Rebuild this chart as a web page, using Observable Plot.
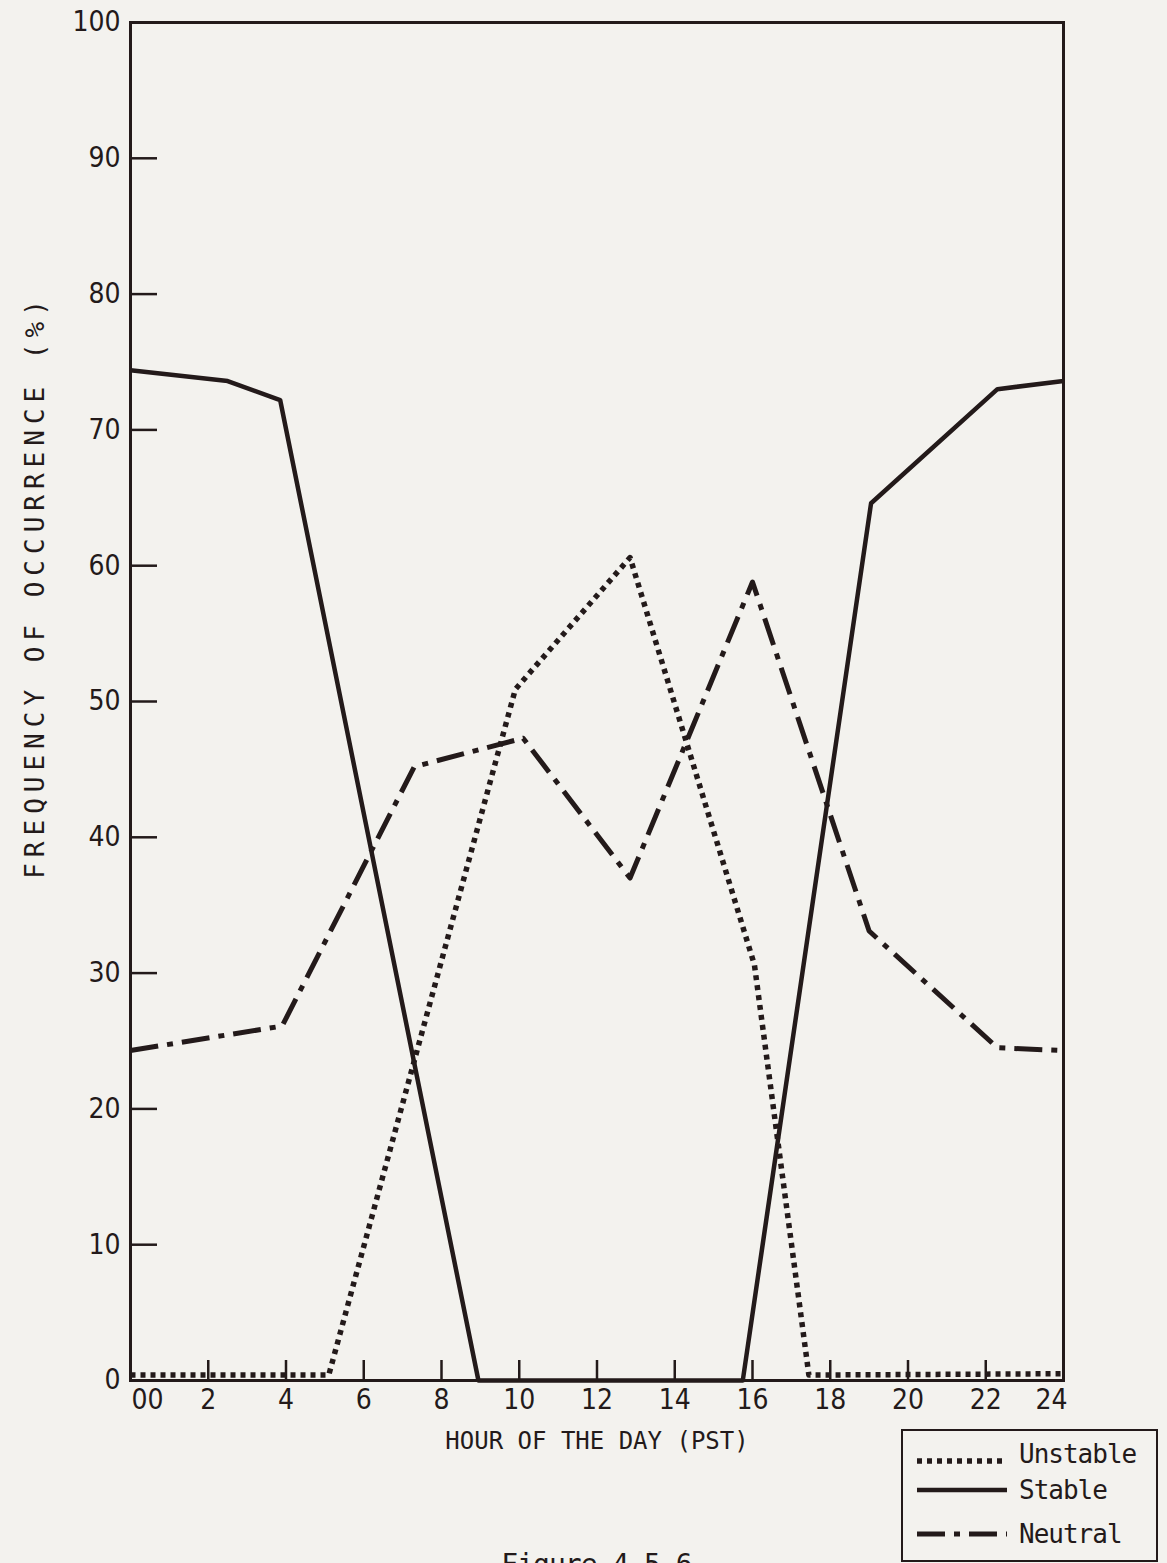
<!DOCTYPE html>
<html>
<head>
<meta charset="utf-8">
<script src="https://cdn.jsdelivr.net/npm/d3@7"></script>
<script src="https://cdn.jsdelivr.net/npm/@observablehq/plot@0.6"></script>
<style>
  html, body { margin: 0; padding: 0; background: #f3f2ee; }
  #wrap { position: relative; width: 1167px; height: 1563px; overflow: hidden; background: #f3f2ee; }
  #chart { position: absolute; left: 0; top: 0; }
  #legend { position: absolute; left: 901px; top: 1429px; width: 257px; height: 133px;
            border: 2.5px solid #231a1a; box-sizing: border-box; }
  #legend .row { position: absolute; left: 0; height: 34px; display: flex; align-items: center; }
  #legend .lbl { font-family: "DejaVu Sans Mono", monospace; font-size: 26px; color: #231a1a; letter-spacing: -1px; margin-left: 4px; }
  #caption { position: absolute; left: 0; width: 1193px; top: 1548px; text-align: center;
             font-family: "DejaVu Sans Mono", monospace; font-size: 28px; color: #231a1a; letter-spacing: -1px; }
</style>
</head>
<body>
<div id="wrap">
  <div id="chart"></div>
  <div id="legend"></div>
  <div id="caption">Figure 4.5.6</div>
</div>
<script>
// ---- data ----
const seriesNames = ["Unstable", "Stable", "Neutral"];

const unstableHours  = [0,   5.1, 9.9,  12.85, 16.05, 17.45, 24];
const unstableValues = [0.4, 0.4, 50.9, 60.6,  30.6,  0.4,   0.5];

const stableHours  = [0,    2.5,  3.85, 8.95, 15.75, 19.05, 22.3, 24];
const stableValues = [74.4, 73.6, 72.2, 0,    0,     64.6,  73.0, 73.6];

const neutralHours  = [0,    3.9,  7.3,  10.1, 12.85, 16.0, 19.0, 22.3, 24];
const neutralValues = [24.3, 26.1, 45.2, 47.3, 37.0,  58.8, 33.1, 24.5, 24.3];

const xTicks = [0, 2, 4, 6, 8, 10, 12, 14, 16, 18, 20, 22, 24];
const xTickLabels = ["00", "2", "4", "6", "8", "10", "12", "14", "16", "18", "20", "22", "24"];
const yTicks = [0, 10, 20, 30, 40, 50, 60, 70, 80, 90, 100];

const xTitle = "HOUR OF THE DAY (PST)";
const yTitle = "FREQUENCY OF OCCURRENCE (%)";

// ---- styles ----
const INK = "#231a1a";
const styles = {
  Unstable: {strokeWidth: 5.5, strokeDasharray: "5,5", strokeLinecap: "butt"},
  Stable:   {strokeWidth: 4.5, strokeDasharray: null, strokeLinecap: "butt"},
  Neutral:  {strokeWidth: 5, strokeDasharray: "28,9,6,9", strokeLinecap: "butt"}
};

const toRows = (hours, vals) => hours.map((h, i) => ({hour: h, value: vals[i]}));
const data = {
  Unstable: toRows(unstableHours, unstableValues),
  Stable: toRows(stableHours, stableValues),
  Neutral: toRows(neutralHours, neutralValues)
};

const fmtX = (d) => xTickLabels[xTicks.indexOf(d)];
const xMid = xTicks.slice(1, -1);
const xLabelOpts = {tickSize: 0, tickPadding: 9, label: null, fontSize: 28, tickFormat: fmtX};
const blank = () => "";

const chart = Plot.plot({
  width: 1167,
  height: 1470,
  marginTop: 22,
  marginLeft: 130,
  marginRight: 104,
  marginBottom: 90,
  style: {background: "transparent", color: INK, fontFamily: "'Liberation Sans Narrow', 'DejaVu Sans Condensed', sans-serif", fontSize: "28px"},
  x: {domain: [0, 24]},
  y: {domain: [0, 100]},
  marks: [
    // inward tick marks
    Plot.axisY(yTicks, {tickSize: -27, strokeWidth: 2.5, label: null, tickFormat: blank}),
    Plot.axisX(xTicks, {tickSize: -20, strokeWidth: 2.5, label: null, tickFormat: blank}),
    // tick labels
    Plot.axisY(yTicks, {tickSize: 0, tickPadding: 10, label: null, fontSize: 28}),
    Plot.axisX(xMid, xLabelOpts),
    Plot.axisX([xTicks[0]], {...xLabelOpts, dx: 17}),
    Plot.axisX([xTicks[xTicks.length - 1]], {...xLabelOpts, dx: -12}),
    // axis titles
    Plot.text([xTitle], {frameAnchor: "bottom", dy: 68, fontFamily: "'DejaVu Sans Mono', monospace", fontSize: 24, fill: INK}),
    Plot.text([yTitle], {frameAnchor: "left", textAnchor: "middle", dx: -95, dy: -115, rotate: -90, fontFamily: "'DejaVu Sans Mono', monospace", fontSize: 26, fill: INK}),
    ...seriesNames.map((name) => Plot.line(data[name], {x: "hour", y: "value", stroke: INK, ...styles[name]})),
    Plot.frame({stroke: INK, strokeWidth: 3})
  ]
});
document.getElementById("chart").appendChild(chart);
// wider letter spacing on the y title, as in the reference lettering
d3.select(chart).selectAll("text").filter(function () { return this.textContent === yTitle; })
  .attr("letter-spacing", "6px");

// ---- legend ----
const legend = document.getElementById("legend");
const rowTops = [6, 42, 86];
const lineY = [24, 17, 17];
seriesNames.forEach((name, i) => {
  const row = document.createElement("div");
  row.className = "row";
  row.style.top = rowTops[i] + "px";
  const st = styles[name];
  row.innerHTML = `<svg width="112" height="34"><line x1="14" x2="104" y1="${lineY[i]}" y2="${lineY[i]}" stroke="${INK}" stroke-width="${st.strokeWidth}" ${st.strokeDasharray ? `stroke-dasharray="${st.strokeDasharray}"` : ""}/></svg><span class="lbl">${name}</span>`;
  legend.appendChild(row);
});
</script>
</body>
</html>
